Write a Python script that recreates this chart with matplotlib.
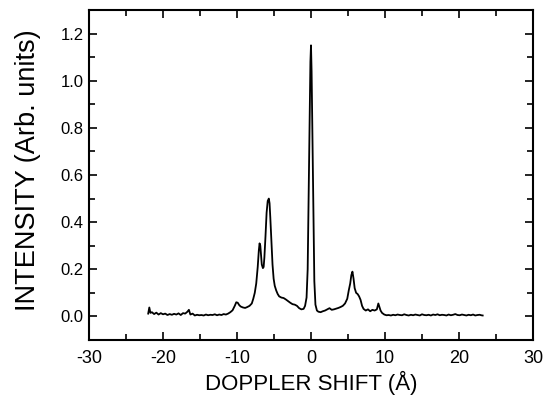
import matplotlib
matplotlib.use("Agg")
import matplotlib.pyplot as plt
from matplotlib.ticker import MultipleLocator

plt.rcParams['font.family'] = ['Liberation Sans', 'DejaVu Sans']
plt.rcParams['axes.unicode_minus'] = False

shift = [-22.0, -21.85, -21.7, -21.5, -21.2, -20.9, -20.6, -20.3, -20.0, -19.7,
         -19.4, -19.1, -18.8, -18.5, -18.2, -17.9, -17.6, -17.3, -17.0, -16.7,
         -16.5, -16.3, -16.0, -15.7, -15.4, -15.1, -14.8, -14.5, -14.2, -13.9,
         -13.6, -13.3, -13.0, -12.7, -12.4, -12.1, -11.8, -11.5, -11.2, -10.9,
         -10.6, -10.3, -10.1, -9.9, -9.7, -9.5, -9.2, -8.9, -8.6, -8.3,
         -8.0, -7.8, -7.6, -7.4, -7.2, -7.05, -6.95, -6.85, -6.75, -6.65,
         -6.5, -6.4, -6.3, -6.15, -6.0, -5.85, -5.7, -5.6, -5.5, -5.35,
         -5.2, -5.05, -4.9, -4.7, -4.5, -4.3, -4.0, -3.7, -3.4, -3.1,
         -2.8, -2.5, -2.2, -1.9, -1.6, -1.3, -1.0, -0.8, -0.6, -0.45,
         -0.3, -0.18, -0.08, 0.0, 0.08, 0.18, 0.3, 0.45, 0.6, 0.8,
         1.0, 1.3, 1.6, 1.9, 2.2, 2.5, 2.8, 3.1, 3.4, 3.7,
         4.0, 4.3, 4.6, 4.9, 5.1, 5.3, 5.45, 5.6, 5.75, 5.9,
         6.1, 6.3, 6.5, 6.7, 6.9, 7.1, 7.4, 7.7, 8.0, 8.3,
         8.6, 8.9, 9.1, 9.25, 9.4, 9.6, 9.9, 10.2, 10.5, 10.8,
         11.1, 11.4, 11.7, 12.0, 12.3, 12.6, 12.9, 13.2, 13.5, 13.8,
         14.1, 14.4, 14.7, 15.0, 15.3, 15.6, 15.9, 16.2, 16.5, 16.8,
         17.1, 17.4, 17.7, 18.0, 18.3, 18.6, 18.9, 19.2, 19.5, 19.8,
         20.1, 20.4, 20.7, 21.0, 21.3, 21.6, 21.9, 22.2, 22.5, 22.8,
         23.0, 23.2]
intensity = [0.012, 0.038, 0.015, 0.018, 0.010, 0.016, 0.008, 0.014, 0.009, 0.012,
             0.006, 0.010, 0.007, 0.011, 0.008, 0.013, 0.006, 0.014, 0.012, 0.020,
             0.028, 0.008, 0.012, 0.004, 0.007, 0.005, 0.006, 0.004, 0.008, 0.005,
             0.007, 0.006, 0.009, 0.005, 0.008, 0.006, 0.010, 0.008, 0.012, 0.018,
             0.026, 0.045, 0.060, 0.058, 0.048, 0.042, 0.038, 0.036, 0.040, 0.045,
             0.055, 0.075, 0.10, 0.14, 0.21, 0.28, 0.31, 0.30, 0.26, 0.22,
             0.205, 0.21, 0.25, 0.34, 0.44, 0.49, 0.50, 0.48, 0.42, 0.32,
             0.22, 0.16, 0.13, 0.11, 0.095, 0.085, 0.08, 0.078, 0.072, 0.065,
             0.058, 0.052, 0.050, 0.045, 0.035, 0.030, 0.032, 0.045, 0.08, 0.20,
             0.55, 0.85, 1.08, 1.15, 1.04, 0.80, 0.50, 0.15, 0.05, 0.025,
             0.020, 0.018, 0.022, 0.025, 0.030, 0.035, 0.028, 0.030, 0.033, 0.036,
             0.040, 0.045, 0.055, 0.075, 0.11, 0.14, 0.175, 0.19, 0.16, 0.12,
             0.10, 0.095, 0.085, 0.07, 0.045, 0.032, 0.025, 0.030, 0.022, 0.028,
             0.025, 0.030, 0.055, 0.040, 0.025, 0.015, 0.008, 0.005, 0.006, 0.004,
             0.007, 0.005, 0.008, 0.006, 0.005, 0.009, 0.006, 0.004, 0.007, 0.005,
             0.008, 0.006, 0.004, 0.009, 0.006, 0.005, 0.007, 0.004, 0.008, 0.006,
             0.009, 0.005, 0.007, 0.006, 0.004, 0.008, 0.005, 0.007, 0.010, 0.006,
             0.005, 0.008, 0.006, 0.004, 0.007, 0.005, 0.008, 0.004, 0.006, 0.007,
             0.005, 0.004]

fig = plt.figure(figsize=(5.54, 4.07), dpi=100)
ax = fig.add_axes([89/554, 1 - 340/407, (533 - 89)/554, (340 - 10)/407])
ax.plot(shift, intensity, color='black', lw=1.3)

ax.set_xlim(-30, 30)
ax.set_ylim(-0.1, 1.3)
ax.xaxis.set_major_locator(MultipleLocator(10))
ax.xaxis.set_minor_locator(MultipleLocator(5))
ax.yaxis.set_major_locator(MultipleLocator(0.2))
ax.yaxis.set_minor_locator(MultipleLocator(0.1))
ax.yaxis.set_major_formatter(plt.FuncFormatter(lambda v, p: f"{v:.1f}"))
ax.tick_params(which='both', direction='in', top=True, right=True, width=1.2)
ax.tick_params(which='major', length=6)
ax.tick_params(which='minor', length=4)
ax.tick_params(axis='x', which='major', pad=7, labelsize=13)
ax.tick_params(axis='y', which='major', pad=4, labelsize=12)
for s in ax.spines.values():
    s.set_linewidth(1.5)
ax.set_xlabel("DOPPLER SHIFT (Å)", fontsize=16, labelpad=3)
ax.set_ylabel("INTENSITY (Arb. units)", fontsize=19.5)
ax.yaxis.set_label_coords(-0.108, 0.515)

fig.savefig("out.png", dpi=100)
